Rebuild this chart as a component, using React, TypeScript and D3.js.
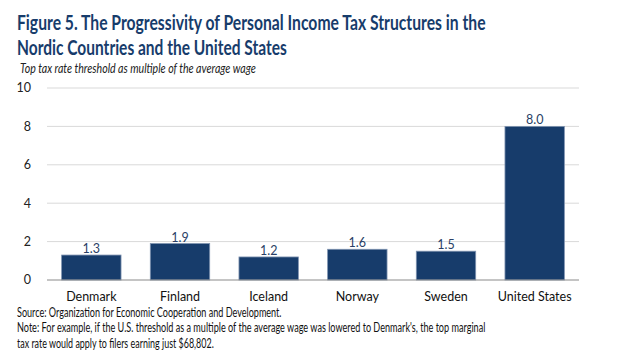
import React, { useLayoutEffect, useRef, useState } from 'react';
import * as d3 from 'd3';

const countries = ['Denmark', 'Finland', 'Iceland', 'Norway', 'Sweden', 'United States'];
const thresholds = [1.3, 1.9, 1.2, 1.6, 1.5, 8.0];
const yTicks = [0, 2, 4, 6, 8, 10];

const titleLines = [
  'Figure 5. The Progressivity of Personal Income Tax Structures in the',
  'Nordic Countries and the United States',
];
const subtitle = 'Top tax rate threshold as multiple of the average wage';
const sourceText = 'Source: Organization for Economic Cooperation and Development.';
const noteLines = [
  "Note: For example, if the U.S. threshold as a multiple of the average wage was lowered to Denmark's, the top marginal",
  'tax rate would apply to filers earning just $68,802.',
];

const width = 619;
const height = 363;
const plot = { left: 47, right: 579, top: 88, bottom: 280 };
const navy = '#173c6b';
const font = 'Lato, "Open Sans", sans-serif';

// text squeezed horizontally to a given width (the original uses a condensed face)
const FitText = ({ x, y, w, children, ...rest }: any) => {
  const ref = useRef<SVGTextElement>(null);
  const [sx, setSx] = useState(1);
  useLayoutEffect(() => {
    if (ref.current) {
      const len = ref.current.getComputedTextLength();
      if (len > 0) setSx(w / len);
    }
  }, [w, children]);
  return (
    <text ref={ref} transform={`translate(${x},${y}) scale(${sx},1)`} {...rest}>
      {children}
    </text>
  );
};

const App = () => {
  const x = d3.scaleBand().domain(countries).range([plot.left, plot.right]).paddingInner(0.33).paddingOuter(0.165);
  const y = d3.scaleLinear().domain([0, 10]).range([plot.bottom, plot.top]);

  return (
    <svg width={width} height={height} style={{ position: 'absolute', left: 0, top: 0 }} fontFamily={font}>
      <rect width={width} height={height} fill="#fff" />

      {/* title */}
      <FitText x={17} y={30} w={469} fill={navy} fontWeight="bold" fontSize={20.5}>{titleLines[0]}</FitText>
      <FitText x={17} y={55} w={270} fill={navy} fontWeight="bold" fontSize={20.5}>{titleLines[1]}</FitText>
      <FitText x={20} y={73} w={236} fontSize={12.5} fontStyle="italic" fill="#222">{subtitle}</FitText>

      {/* grid + y axis */}
      {yTicks.map(t => (
        <g key={t}>
          {t > 0 && <line x1={plot.left} x2={plot.right} y1={y(t)} y2={y(t)} stroke="#d9d9d9" strokeWidth={1} />}
          <text x={31} y={y(t)} dy="0.35em" textAnchor="end" fontSize={12.5} fill="#222">{t}</text>
        </g>
      ))}

      {/* bars */}
      {countries.map((c, i) => (
        <g key={c}>
          <rect
            x={x(c)}
            y={y(thresholds[i])}
            width={x.bandwidth()}
            height={y(0) - y(thresholds[i])}
            fill={navy}
            stroke="#7f93b0"
            strokeWidth={0.8}
          />
          <text x={x(c)! + x.bandwidth() / 2} y={y(thresholds[i]) - 2} textAnchor="middle" fontSize={12.5} fill="#2a3f66">
            {thresholds[i].toFixed(1)}
          </text>
          <text x={x(c)! + x.bandwidth() / 2} y={301} textAnchor="middle" fontSize={12.5} fill="#111">{c}</text>
        </g>
      ))}
      <line x1={plot.left} x2={plot.right} y1={y(0)} y2={y(0)} stroke="#8a8a8a" strokeWidth={1} />

      {/* footer */}
      <FitText x={17} y={317} w={265} fontSize={12.5} fill="#111">{sourceText}</FitText>
      <FitText x={17} y={332} w={469} fontSize={12.5} fill="#111">{noteLines[0]}</FitText>
      <FitText x={17} y={348} w={197} fontSize={12.5} fill="#111">{noteLines[1]}</FitText>
    </svg>
  );
};

export default App;
